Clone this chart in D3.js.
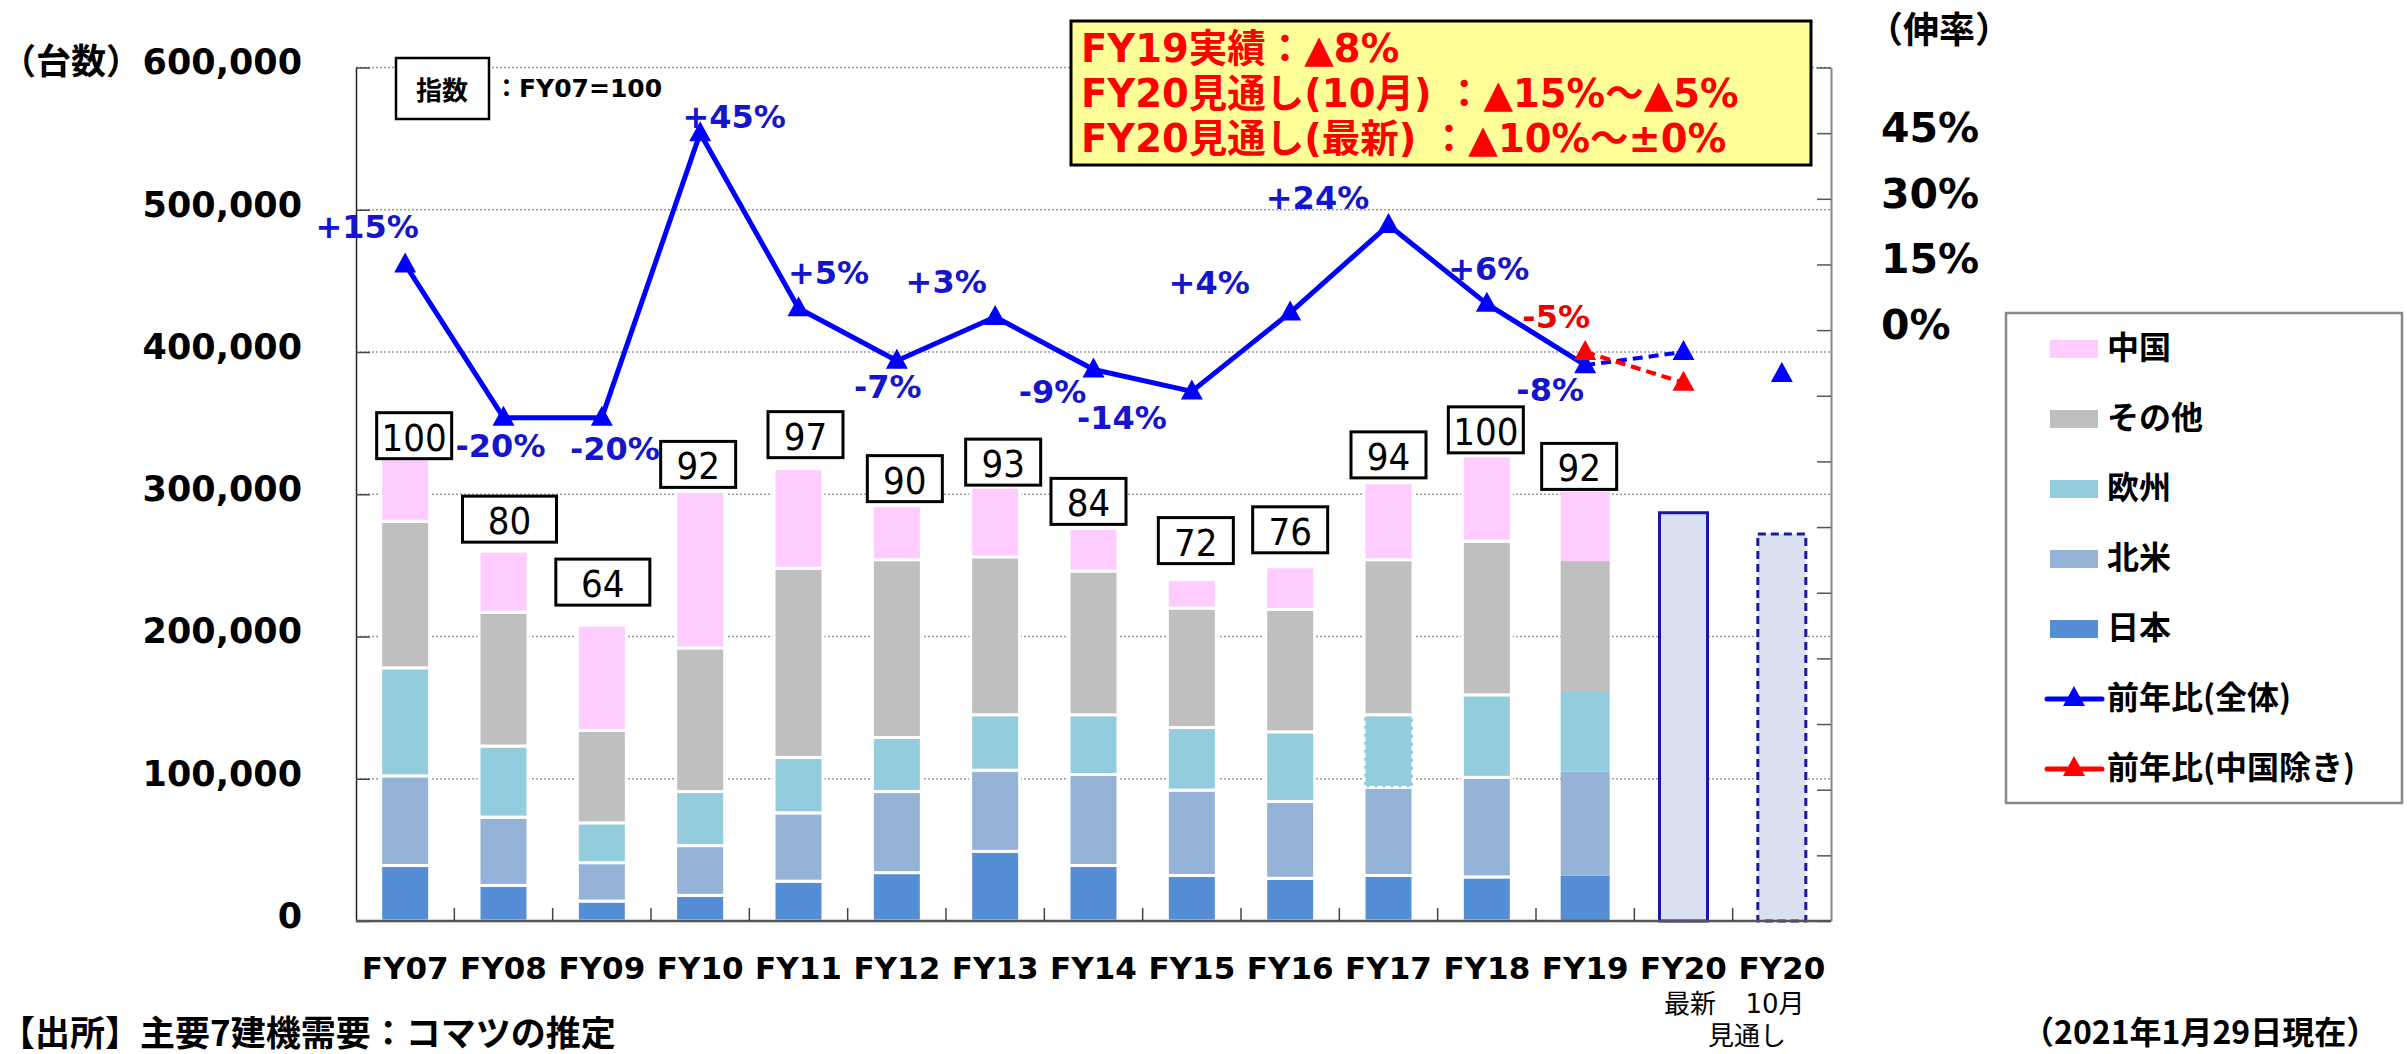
<!DOCTYPE html>
<html lang="ja">
<head>
<meta charset="UTF-8">
<title>主要7建機需要</title>
<style>
  body { margin: 0; background: #fff; overflow: hidden; }
  svg { display: block; }
  text { font-family: "DejaVu Sans", "Noto Sans CJK JP", sans-serif; font-weight: bold; }
  .jp { font-family: "Noto Sans CJK JP", sans-serif; }
  .grid { stroke: #9a9a9a; stroke-width: 1.6; stroke-dasharray: 2,2; }
</style>
</head>
<body>
<div id="chart"></div>
<script src="https://cdn.jsdelivr.net/npm/d3@7"></script>
<script>
// categories (last two are the FY20 forecasts: latest / October)
const categories = ["FY07", "FY08", "FY09", "FY10", "FY11", "FY12", "FY13", "FY14", "FY15", "FY16", "FY17", "FY18", "FY19", "FY20最新", "FY20_10月"];
const xLabels = ["FY07", "FY08", "FY09", "FY10", "FY11", "FY12", "FY13", "FY14", "FY15", "FY16", "FY17", "FY18", "FY19", "FY20", "FY20"];

// units (台)
const japan = [39000, 25000, 14000, 18000, 28000, 34000, 49000, 39000, 32000, 30000, 32000, 31000, 32000];
const northAmerica = [63000, 48000, 27000, 35000, 48000, 57000, 57000, 64000, 60000, 54000, 62000, 70000, 73000];
const europe = [76000, 50000, 28000, 38000, 39000, 38000, 39000, 42000, 44000, 49000, 51000, 58000, 56000];
const others = [103000, 94000, 65000, 101000, 133000, 125000, 111000, 101000, 84000, 86000, 109000, 108000, 92000];
const china = [44000, 43000, 74000, 110000, 70000, 38000, 49000, 30000, 20000, 30000, 54000, 60000, 49000];
const forecastFY20 = [287000, 272000];

// index FY07=100
const indexValues = [100, 80, 64, 92, 97, 90, 93, 84, 72, 76, 94, 100, 92];

// year-on-year growth (%)
const growthAll = [15, -20, -20, 45, 5, -7, 3, -9, -14, 4, 24, 6, -8];
const growthAllFY20 = [-5, -10];
const growthExChina = [-5, -12];

const leftTicks = [0, 100000, 200000, 300000, 400000, 500000, 600000];
const rightTicks = d3.range(-135, 61, 15);
const rightTickLabels = [0, 15, 30, 45];

const seriesKeys = ["japan", "northAmerica", "europe", "others", "china"];
const seriesNames = { japan: "日本", northAmerica: "北米", europe: "欧州", others: "その他", china: "中国" };
const colors = { japan: "#558ed5", northAmerica: "#95b3d7", europe: "#93cddd", others: "#bfbfbf", china: "#ffccff" };

const W = 2407, H = 1054;
const plot = { left: 356, right: 1831, top: 67.5, bottom: 921 };

const svg = d3.select("#chart").append("svg").attr("width", W).attr("height", H);

const x = d3.scaleBand().domain(categories).range([plot.left, plot.right]);
const y = d3.scaleLinear().domain([0, 600000]).range([plot.bottom, plot.top]);
const y2 = d3.scaleLinear().domain([-135, 60]).range([plot.bottom, plot.top]);
const cx = c => x(c) + x.bandwidth() / 2;
const barW = 49;

// gridlines
svg.append("g").selectAll("line")
    .data(leftTicks.filter(d => d > 0))
    .join("line")
    .attr("class", "grid")
    .attr("x1", plot.left).attr("x2", plot.right)
    .attr("y1", d => y(d)).attr("y2", d => y(d));

// stacked bars
const rows = categories.slice(0, 13).map((c, i) => ({
    cat: c, japan: japan[i], northAmerica: northAmerica[i], europe: europe[i], others: others[i], china: china[i]
}));
const stacked = d3.stack().keys(seriesKeys)(rows);

svg.append("g").selectAll("g")
    .data(stacked)
    .join("g")
    .attr("fill", d => colors[d.key])
    .each(function (s) {
        d3.select(this).selectAll("rect")
            .data(s)
            .join("rect")
            .attr("x", d => cx(d.data.cat) - barW / 2)
            .attr("y", d => y(d[1]))
            .attr("width", barW)
            .attr("height", d => y(d[0]) - y(d[1]))
            .attr("stroke", d => d.data.cat === "FY19" ? "none" : "#fff")
            .attr("stroke-width", 3)
            .attr("stroke-dasharray", d => (s.key === "europe" && d.data.cat === "FY17") ? "5,3" : null);
    });

// FY20 forecast bars
svg.append("g").selectAll("rect")
    .data(forecastFY20)
    .join("rect")
    .attr("x", (d, i) => cx(categories[13 + i]) - 24)
    .attr("y", d => y(d))
    .attr("width", 48)
    .attr("height", d => y(0) - y(d))
    .attr("fill", "#dae0f1")
    .attr("stroke", "#1a1a9a")
    .attr("stroke-width", 3)
    .attr("stroke-dasharray", (d, i) => i === 1 ? "8,5" : null);

// left axis
const leftAxis = svg.append("g")
    .attr("transform", `translate(${plot.left},0)`)
    .call(d3.axisLeft(y).tickValues(leftTicks).tickSize(-14).tickSizeOuter(0)
        .tickPadding(54).tickFormat(d3.format(",")));
leftAxis.select(".domain").attr("stroke", "#222").attr("stroke-width", 1.5);
leftAxis.selectAll(".tick line").attr("stroke", "#444").attr("stroke-width", 1.5);
leftAxis.selectAll(".tick text")
    .attr("font-size", 35).attr("font-family", "DejaVu Sans").attr("font-weight", "bold")
    .attr("fill", "#000").attr("dy", "0.18em");

// right axis
const rightAxis = svg.append("g")
    .attr("transform", `translate(${plot.right},0)`)
    .call(d3.axisRight(y2).tickValues(rightTicks).tickSize(-14).tickSizeOuter(0)
        .tickPadding(50).tickFormat(d => rightTickLabels.includes(d) ? d + "%" : ""));
rightAxis.select(".domain").attr("stroke", "#888").attr("stroke-width", 2);
rightAxis.selectAll(".tick line").attr("stroke", "#555").attr("stroke-width", 1.5);
rightAxis.selectAll(".tick text")
    .attr("font-size", 41).attr("font-family", "DejaVu Sans").attr("font-weight", "bold")
    .attr("fill", "#000").attr("dy", "0.2em");

// bottom axis
const bottom = svg.append("g");
bottom.append("line")
    .attr("x1", plot.left).attr("x2", plot.right)
    .attr("y1", plot.bottom).attr("y2", plot.bottom)
    .attr("stroke", "#555").attr("stroke-width", 2.5);
bottom.selectAll(".btick")
    .data(categories.slice(1))
    .join("line")
    .attr("x1", d => x(d)).attr("x2", d => x(d))
    .attr("y1", plot.bottom).attr("y2", plot.bottom - 13)
    .attr("stroke", "#444").attr("stroke-width", 1.5);
bottom.selectAll("text")
    .data(categories)
    .join("text")
    .attr("x", d => cx(d))
    .attr("y", 979)
    .attr("text-anchor", "middle")
    .attr("font-size", 31)
    .text((d, i) => xLabels[i]);

const sub = svg.append("g").attr("class", "jp").attr("font-size", 26).attr("text-anchor", "middle");
sub.append("text").attr("x", 1690).attr("y", 1004).attr("dominant-baseline", "central").style("font-weight", "normal").text("最新");
sub.append("text").attr("x", 1775).attr("y", 1004).attr("dominant-baseline", "central").style("font-weight", "normal").text("10月");
sub.append("text").attr("x", 1747).attr("y", 1036).attr("dominant-baseline", "central").style("font-weight", "normal").text("見通し");

// index boxes
const boxDx = [9, 6, 1, -2, 7, 8, 8, -5, 4, 0, 0, -1, -6];
const boxGap = [0, 9, 20, 4, 11, 4, 2, 4, 16, 14, 5, 3, 2];
const boxW = [75, 94, 94, 75, 75, 75, 75, 75, 75, 75, 75, 75, 75];
const boxH = 46;
const idx = svg.append("g").selectAll("g")
    .data(indexValues)
    .join("g")
    .attr("transform", (d, i) => {
        const total = japan[i] + northAmerica[i] + europe[i] + others[i] + china[i];
        return `translate(${cx(categories[i]) + boxDx[i]},${y(total) - boxGap[i] - boxH / 2})`;
    });
idx.append("rect")
    .attr("x", (d, i) => -boxW[i] / 2).attr("y", -boxH / 2)
    .attr("width", (d, i) => boxW[i]).attr("height", boxH)
    .attr("fill", "#fff").attr("stroke", "#000").attr("stroke-width", 3);
idx.append("text")
    .attr("text-anchor", "middle").attr("dominant-baseline", "central").attr("y", 2)
    .attr("font-size", 38)
    .style("font-family", "'DejaVu Sans Condensed', 'DejaVu Sans', sans-serif")
    .style("font-weight", "normal")
    .text(d => d);

// triangle marker
const tri = (px, py) => `M${px},${py - 12}L${px + 11},${py + 8}L${px - 11},${py + 8}Z`;

// growth line (all)
const blue = "#0000ff";
const line = d3.line().x(d => d[0]).y(d => d[1]);
const allPts = growthAll.map((v, i) => [cx(categories[i]), y2(v)]);
svg.append("path").attr("d", line(allPts))
    .attr("fill", "none").attr("stroke", blue).attr("stroke-width", 5).attr("stroke-linejoin", "round");
svg.append("path").attr("d", line([allPts[12], [cx(categories[13]), y2(growthAllFY20[0])]]))
    .attr("fill", "none").attr("stroke", blue).attr("stroke-width", 4).attr("stroke-dasharray", "10,6");

// growth line (ex China)
const red = "#ff0000";
const redPts = growthExChina.map((v, i) => [cx(categories[12 + i]), y2(v)]);
svg.append("path").attr("d", line(redPts))
    .attr("fill", "none").attr("stroke", red).attr("stroke-width", 4).attr("stroke-dasharray", "10,6");

svg.append("g").selectAll("path")
    .data(allPts.concat(growthAllFY20.map((v, i) => [cx(categories[13 + i]), y2(v)])))
    .join("path")
    .attr("d", d => tri(d[0], d[1]))
    .attr("fill", blue);
svg.append("g").selectAll("path")
    .data(redPts)
    .join("path")
    .attr("d", d => tri(d[0], d[1]))
    .attr("fill", red);

// growth labels
const labelOffsets = [[-38, -37], [-3, 28], [13, 31], [34, -16], [30, -35], [-9, 26], [-49, -35],
    [-41, 22], [-70, 27], [-81, -30], [-71, -27], [2, -35], [-35, 25]];
const fmt = v => (v > 0 ? "+" : "") + v + "%";
svg.append("g").selectAll("text")
    .data(growthAll)
    .join("text")
    .attr("x", (d, i) => allPts[i][0] + labelOffsets[i][0])
    .attr("y", (d, i) => allPts[i][1] + labelOffsets[i][1])
    .attr("text-anchor", "middle").attr("dominant-baseline", "central")
    .attr("font-size", 32).attr("fill", "#1515cc")
    .text(fmt);
svg.append("text")
    .attr("x", redPts[0][0] - 29).attr("y", redPts[0][1] - 35)
    .attr("text-anchor", "middle").attr("dominant-baseline", "central")
    .attr("font-size", 32).attr("fill", "#ee0000")
    .text(fmt(growthExChina[0]));

// axis titles
svg.append("text").attr("class", "jp").attr("x", 1).attr("y", 58)
    .attr("dominant-baseline", "central").attr("font-size", 35).text("（台数）");
svg.append("text").attr("class", "jp").attr("x", 1867).attr("y", 27)
    .attr("dominant-baseline", "central").attr("font-size", 36).text("（伸率）");

// index note
svg.append("rect").attr("x", 396).attr("y", 58).attr("width", 93).attr("height", 61)
    .attr("fill", "#fff").attr("stroke", "#000").attr("stroke-width", 2.5);
svg.append("text").attr("class", "jp").attr("x", 442).attr("y", 88)
    .attr("text-anchor", "middle").attr("dominant-baseline", "central").attr("font-size", 26).text("指数");
svg.append("text").attr("x", 494).attr("y", 88)
    .attr("dominant-baseline", "central").attr("font-size", 25).text("：FY07=100");

// yellow annotation
svg.append("rect").attr("x", 1071).attr("y", 21).attr("width", 740).attr("height", 144)
    .attr("fill", "#ffff99").attr("stroke", "#000").attr("stroke-width", 3);
const notes = ["FY19実績：▲8%", "FY20見通し(10月) ：▲15%～▲5%", "FY20見通し(最新) ：▲10%～±0%"];
svg.append("g").selectAll("text")
    .data(notes)
    .join("text")
    .attr("x", 1081).attr("y", (d, i) => 62 + i * 45)
    .attr("font-size", 38.5).attr("fill", "#ff0000")
    .text(d => d);

// legend
const lg = svg.append("g");
lg.append("rect").attr("x", 2006).attr("y", 313).attr("width", 396).attr("height", 490)
    .attr("fill", "#fff").attr("stroke", "#888").attr("stroke-width", 2.5);
const legendKeys = ["china", "others", "europe", "northAmerica", "japan"];
legendKeys.forEach((k, i) => {
    const ly = 349 + i * 70;
    lg.append("rect").attr("x", 2050).attr("y", ly - 9).attr("width", 48).attr("height", 18).attr("fill", colors[k]);
    lg.append("text").attr("class", "jp").attr("x", 2107).attr("y", ly - 4)
        .attr("dominant-baseline", "central").attr("font-size", 32).text(seriesNames[k]);
});
[["前年比(全体)", blue], ["前年比(中国除き)", red]].forEach(([name, col], j) => {
    const ly = 349 + (5 + j) * 70;
    lg.append("line").attr("x1", 2047).attr("x2", 2102).attr("y1", ly).attr("y2", ly)
        .attr("stroke", col).attr("stroke-width", 5).attr("stroke-linecap", "round");
    lg.append("path").attr("d", tri(2074, ly - 1)).attr("fill", col);
    lg.append("text").attr("class", "jp").attr("x", 2107).attr("y", ly - 4)
        .attr("dominant-baseline", "central").attr("font-size", 32).text(name);
});

// footnotes
svg.append("text").attr("class", "jp").attr("x", 0).attr("y", 1030)
    .attr("dominant-baseline", "central").attr("font-size", 35).text("【出所】主要7建機需要：コマツの推定");
svg.append("text").attr("class", "jp").attr("x", 2022).attr("y", 1030)
    .attr("dominant-baseline", "central").attr("font-size", 32).text("（2021年1月29日現在）");
</script>
</body>
</html>
